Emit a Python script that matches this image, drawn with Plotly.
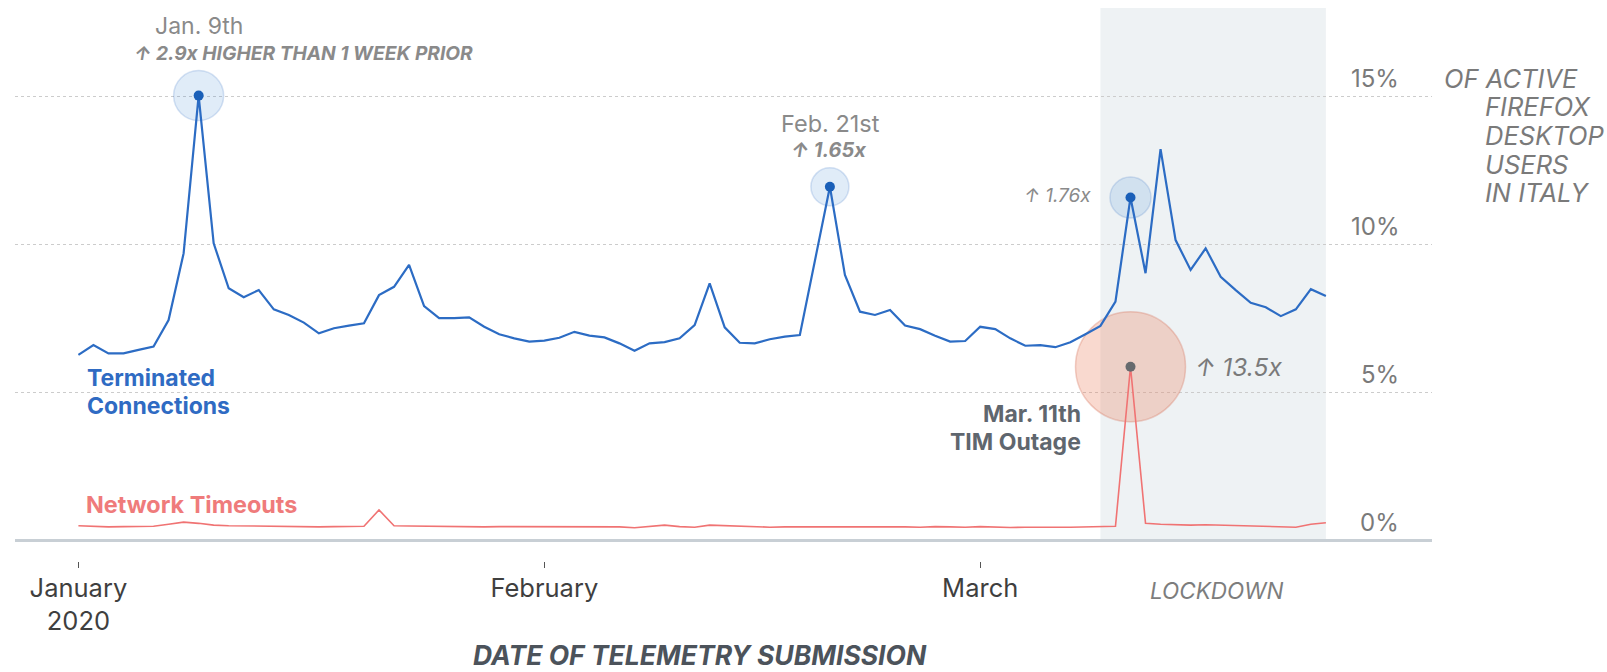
import plotly.graph_objects as go
import pandas as pd
from datetime import datetime, timedelta

# ---------------- data ----------------
start_date = "2020-01-01"
terminated = [6.27, 6.60, 6.32, 6.32, 6.44, 6.55, 7.45, 9.70, 15.03, 10.04,
              8.52, 8.22, 8.46, 7.81, 7.62, 7.36, 7.00, 7.17, 7.26, 7.34,
              8.29, 8.57, 9.31, 7.92, 7.51, 7.51, 7.54, 7.22, 6.97, 6.83,
              6.72, 6.75, 6.85, 7.05, 6.92, 6.86, 6.66, 6.41, 6.66, 6.70,
              6.83, 7.28, 8.69, 7.20, 6.68, 6.66, 6.80, 6.89, 6.94, 9.45,
              11.95, 8.97, 7.73, 7.62, 7.79, 7.26, 7.14, 6.92, 6.72, 6.74,
              7.22, 7.14, 6.83, 6.58, 6.60, 6.53, 6.70, 6.97, 7.25, 8.07,
              11.59, 9.03, 13.22, 10.15, 9.14, 9.87, 8.91, 8.46, 8.03, 7.88,
              7.58, 7.81, 8.49, 8.26]
timeouts = [0.50, 0.47, 0.46, 0.47, 0.47, 0.48, 0.55, 0.62, 0.58, 0.52,
            0.50, 0.49, 0.48, 0.48, 0.47, 0.47, 0.46, 0.47, 0.47, 0.48,
            1.03, 0.50, 0.49, 0.48, 0.47, 0.47, 0.46, 0.46, 0.47, 0.47,
            0.47, 0.47, 0.46, 0.46, 0.47, 0.47, 0.46, 0.43, 0.48, 0.52,
            0.47, 0.45, 0.52, 0.50, 0.47, 0.45, 0.45, 0.46, 0.46, 0.47,
            0.48, 0.47, 0.46, 0.47, 0.48, 0.46, 0.45, 0.47, 0.46, 0.45,
            0.47, 0.45, 0.44, 0.45, 0.46, 0.45, 0.45, 0.46, 0.47, 0.48,
            5.87, 0.58, 0.55, 0.53, 0.52, 0.53, 0.52, 0.51, 0.50, 0.48,
            0.46, 0.45, 0.55, 0.60]
dates = pd.date_range(start_date, periods=len(terminated), freq="D")

y_tick_vals = [0, 5, 10, 15]
y_tick_labels = ["0%", "5%", "10%", "15%"]
x_tick_vals = ["2020-01-01", "2020-02-01", "2020-03-01"]
x_tick_labels = ["January<br>2020", "February", "March"]
lockdown_start, lockdown_end = "2020-03-09", "2020-03-24"
blue_peaks = ["2020-01-09", "2020-02-20", "2020-03-11"]
red_peak = "2020-03-11"

# ---------------- layout geometry ----------------
W, H = 1607, 672
L, R, T, B = 15, 1432, 8, 568          # plot area in pixels
Y_ZERO, PX_PER_PCT = 540.5, 29.6
X_ZERO, PX_PER_DAY = 78.4, 15.03
ymin = (Y_ZERO - B) / PX_PER_PCT
ymax = (Y_ZERO - T) / PX_PER_PCT
base = datetime(2020, 1, 1)
xmin = base + timedelta(days=(L - X_ZERO) / PX_PER_DAY)
xmax = base + timedelta(days=(R - X_ZERO) / PX_PER_DAY)


def px(x):
    return (x - L) / (R - L)


def py(y):
    return (B - y) / (B - T)


s_dates = pd.Series(terminated, index=dates)
r_dates = pd.Series(timeouts, index=dates)
bp_x = [pd.Timestamp(d) for d in blue_peaks]
bp_y = [s_dates[pd.Timestamp(d)] for d in blue_peaks]
rp_x = pd.Timestamp(red_peak)
rp_y = r_dates[rp_x]

BLUE = "#2c6cc4"
RED = "#f07373"
FONT = "Inter"

fig = go.Figure()

# halos
fig.add_trace(go.Scatter(
    x=[rp_x], y=[rp_y], mode="markers", hoverinfo="skip",
    marker=dict(size=110, color="rgba(236,128,96,0.30)",
                line=dict(color="rgba(214,120,96,0.35)", width=1.5))))
fig.add_trace(go.Scatter(
    x=bp_x, y=bp_y, mode="markers", hoverinfo="skip",
    marker=dict(size=[50, 38, 41], color="rgba(60,130,215,0.22)",
                line=dict(color="rgba(60,120,200,0.30)", width=1.5))))

# lines
fig.add_trace(go.Scatter(x=dates, y=timeouts, mode="lines",
                         line=dict(color=RED, width=1.6)))
fig.add_trace(go.Scatter(x=dates, y=terminated, mode="lines",
                         line=dict(color=BLUE, width=2.2)))

# dots
fig.add_trace(go.Scatter(x=bp_x, y=bp_y, mode="markers",
                         marker=dict(size=10, color="#1a5fb8")))
fig.add_trace(go.Scatter(x=[rp_x], y=[rp_y], mode="markers",
                         marker=dict(size=10, color="#666a6e")))

# lockdown shading
fig.add_shape(type="rect", xref="x", yref="y", x0=lockdown_start, x1=lockdown_end,
              y0=0, y1=ymax, fillcolor="#eef2f4", line=dict(width=0), layer="below")

ann = []


def add(text, x, y, size, color, xanchor="left", xref="paper", yref="paper",
        xshift=0, yshift=0, yanchor="middle", align="left"):
    ann.append(dict(text=text, x=x, y=y, xref=xref, yref=yref, xanchor=xanchor,
                    yanchor=yanchor, xshift=xshift, yshift=yshift, showarrow=False,
                    align=align, borderpad=0,
                    font=dict(family=FONT, size=size, color=color)))


# right axis labels
for v, lab in zip(y_tick_vals, y_tick_labels):
    add(lab, px(1400), v, 24, "#7a7a7a", xanchor="right", yref="y", yshift=18.5)
add("<i>OF ACTIVE</i>", px(1443), py(78), 25.5, "#7a7a7a")
for i, line in enumerate(["FIREFOX", "DESKTOP", "USERS", "IN ITALY"]):
    add("<i>%s</i>" % line, px(1484), py(106.5 + i * 28.8), 25.5, "#7a7a7a")

# peak annotations
add("Jan. 9th", bp_x[0], bp_y[0], 23, "#8a8a8a", xanchor="center", xref="x", yref="y",
    yshift=95.7 - 26)
add("<b><i>↑ 2.9x HIGHER THAN 1 WEEK PRIOR</i></b>", bp_x[0], bp_y[0], 19.2, "#8a8a8a",
    xanchor="left", xref="x", yref="y", xshift=133 - 198.6, yshift=95.7 - 53)
add("Feb. 21st", bp_x[1], bp_y[1], 23.5, "#8a8a8a", xanchor="center", xref="x", yref="y",
    xshift=1, yshift=187 - 124)
add("<b><i>↑ 1.65x</i></b>", bp_x[1], bp_y[1], 20, "#8a8a8a", xanchor="center",
    xref="x", yref="y", xshift=-1, yshift=187 - 150)
add("<i>↑ 1.76x</i>", bp_x[2], bp_y[2], 19, "#8a8a8a", xanchor="right",
    xref="x", yref="y", xshift=1092 - 1130.5, yshift=2)
add("<i>↑ 13.5x</i>", rp_x, rp_y, 24.5, "#7a7a7a", xanchor="left",
    xref="x", yref="y", xshift=1194 - 1130.5, yshift=0)
add("<b>Mar. 11th</b>", rp_x, rp_y, 23, "#5f666e", xanchor="right",
    xref="x", yref="y", xshift=1082 - 1130.5, yshift=366.7 - 413.5)
add("<b>TIM Outage</b>", rp_x, rp_y, 23, "#5f666e", xanchor="right",
    xref="x", yref="y", xshift=1082 - 1130.5, yshift=366.7 - 441.5)

# series labels
add("<b>Terminated</b>", px(86), py(378), 23, "#2f6bc3")
add("<b>Connections</b>", px(86), py(406), 23, "#2f6bc3")
add("<b>Network Timeouts</b>", px(85), py(504), 23.4, "#ef7b7b")

# bottom labels
add("<i>LOCKDOWN</i>", px(1216), py(590), 22.5, "#7d7d7d", xanchor="center")
add("<b><i>DATE OF TELEMETRY SUBMISSION</i></b>", px(700), py(655), 26.5, "#4c535b",
    xanchor="center")

fig.update_layout(
    width=W, height=H, template="none", showlegend=False,
    paper_bgcolor="white", plot_bgcolor="white",
    margin=dict(l=L, r=W - R, t=T, b=H - B, pad=0, autoexpand=False),
    annotations=ann,
    xaxis=dict(type="date", range=[xmin, xmax], showgrid=False, zeroline=False,
               showline=False, ticks="inside", ticklen=6, tickwidth=1,
               tickcolor="#555555", tickvals=x_tick_vals, ticktext=x_tick_labels,
               tickfont=dict(family=FONT, size=25.5, color="#3f3f3f"),
               ticklabelstandoff=2,
               automargin=False, fixedrange=True),
    yaxis=dict(range=[ymin, ymax], tickvals=y_tick_vals, showticklabels=False,
               showgrid=True, gridcolor="#cccccc", griddash="dot", gridwidth=1,
               zeroline=True, zerolinecolor="#c8cfd5", zerolinewidth=3,
               showline=False, ticks="", automargin=False, fixedrange=True),
)

fig.write_html("out.html")
